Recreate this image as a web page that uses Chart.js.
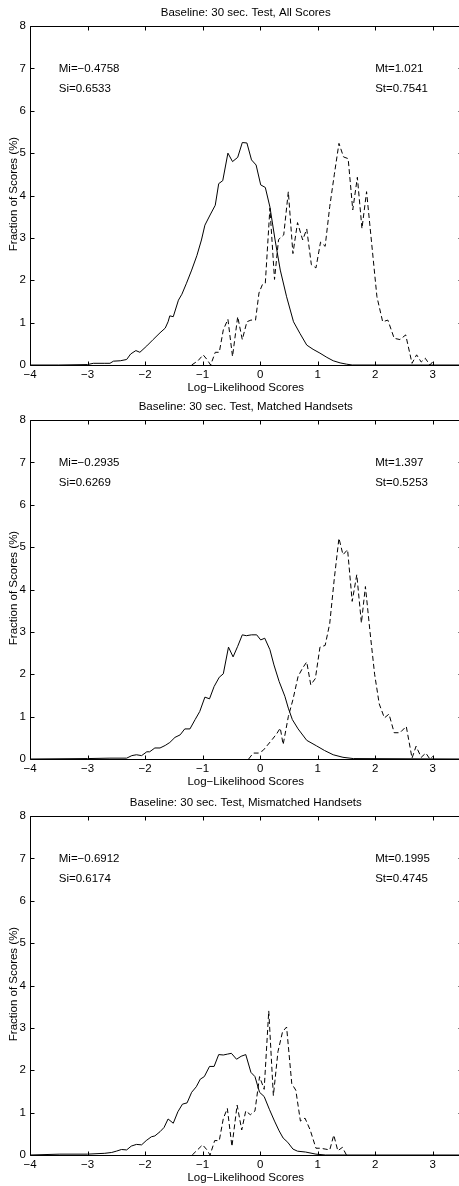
<!DOCTYPE html>
<html><head><meta charset="utf-8">
<script src="https://cdn.jsdelivr.net/npm/chart.js@4.4.1/dist/chart.umd.min.js"></script>
<style>
html,body{margin:0;padding:0;background:#fff;overflow:hidden;width:459px;height:1186px;position:relative;}
.panel{position:absolute;left:0;width:480px;height:395px;}
canvas{display:block;}
</style></head><body>
<div class="panel" style="top:0px"><canvas id="c0" width="480" height="395"></canvas></div>
<div class="panel" style="top:394px"><canvas id="c1" width="480" height="395"></canvas></div>
<div class="panel" style="top:790px"><canvas id="c2" width="480" height="395"></canvas></div>
<script>
// ---- data ----
const xTicks = [-4, -3, -2, -1, 0, 1, 2, 3];
const yTicks = [0, 1, 2, 3, 4, 5, 6, 7, 8];
const xRange = [-4, 3.5];
const yRange = [0, 8];
const panelTitles = ["Baseline: 30 sec. Test, All Scores", "Baseline: 30 sec. Test, Matched Handsets", "Baseline: 30 sec. Test, Mismatched Handsets"];
const xTitle = "Log\u2212Likelihood Scores";
const yTitle = "Fraction of Scores (%)";
const miLabels = ["Mi=\u22120.4758", "Mi=\u22120.2935", "Mi=\u22120.6912"];
const siLabels = ["Si=0.6533", "Si=0.6269", "Si=0.6174"];
const mtLabels = ["Mt=1.021", "Mt=1.397", "Mt=0.1995"];
const stLabels = ["St=0.7541", "St=0.5253", "St=0.4745"];

// Panel 1 (All Scores)
const p1SolidX = [-4,-3.5,-3.0,-2.9,-2.7,-2.61,-2.55,-2.43,-2.32,-2.25,-2.16,-2.09,-1.97,-1.86,-1.74,-1.65,-1.6,-1.57,-1.51,-1.42,-1.36,-1.28,-1.19,-1.1,-1.02,-0.96,-0.87,-0.78,-0.72,-0.65,-0.56,-0.48,-0.39,-0.31,-0.23,-0.15,-0.07,0.01,0.09,0.17,0.26,0.35,0.46,0.58,0.69,0.81,0.92,1.04,1.16,1.27,1.39,1.5,1.6,3.5];
const p1SolidY = [0,0,0.01,0.04,0.04,0.04,0.09,0.1,0.13,0.26,0.34,0.3,0.45,0.6,0.76,0.87,1.02,1.16,1.14,1.53,1.67,1.93,2.24,2.58,2.95,3.3,3.54,3.77,4.28,4.35,5.0,4.8,4.9,5.25,5.24,4.84,4.72,4.25,4.19,3.73,2.95,2.24,1.61,1.02,0.75,0.47,0.37,0.28,0.18,0.1,0.05,0.02,0,0];
const p1DashX = [-1.19,-1.08,-0.99,-0.93,-0.86,-0.78,-0.71,-0.64,-0.56,-0.48,-0.39,-0.31,-0.23,-0.16,-0.08,-0.02,0.04,0.09,0.17,0.25,0.32,0.41,0.49,0.57,0.65,0.74,0.81,0.89,0.97,1.05,1.13,1.21,1.29,1.37,1.45,1.53,1.61,1.69,1.77,1.85,2.03,2.13,2.22,2.33,2.43,2.53,2.64,2.72,2.8,2.87,2.95,3.01];
const p1DashY = [0,0.1,0.24,0.14,0,0.3,0.3,0.83,1.08,0.2,1.14,0.6,1.02,1.06,1.06,1.7,1.9,1.93,3.7,2.02,2.96,3.07,4.09,2.63,3.36,2.95,3.21,2.37,2.29,2.9,2.8,3.74,4.5,5.23,4.91,4.87,3.66,4.43,3.22,4.09,1.61,1.02,1.06,0.63,0.6,0.71,0.04,0.24,0.07,0.16,0,0.09];

// Panel 2 (Matched Handsets)
const p2SolidX = [-4,-3.0,-2.61,-2.32,-2.23,-2.15,-2.06,-1.97,-1.92,-1.83,-1.74,-1.65,-1.57,-1.48,-1.39,-1.31,-1.22,-1.13,-1.05,-0.96,-0.88,-0.8,-0.71,-0.64,-0.55,-0.47,-0.39,-0.31,-0.24,-0.15,-0.06,0.01,0.08,0.17,0.24,0.33,0.43,0.49,0.56,0.66,0.81,0.98,1.12,1.27,1.44,1.62,3.5];
const p2SolidY = [0,0.01,0.02,0.02,0.08,0.1,0.08,0.17,0.17,0.26,0.26,0.32,0.39,0.51,0.57,0.71,0.71,0.93,1.12,1.46,1.42,1.71,1.93,2.01,2.64,2.41,2.66,2.93,2.91,2.93,2.93,2.81,2.85,2.58,2.22,1.83,1.48,1.2,0.93,0.71,0.44,0.31,0.2,0.1,0.04,0.01,0];
const p2DashX = [-0.2,-0.12,-0.03,0.05,0.13,0.21,0.29,0.35,0.4,0.49,0.57,0.66,0.74,0.81,0.88,0.96,1.04,1.13,1.21,1.29,1.37,1.44,1.52,1.6,1.68,1.76,1.83,1.91,1.99,2.07,2.16,2.24,2.33,2.43,2.54,2.64,2.71,2.8,2.88,2.95,3.0];
const p2DashY = [0,0.14,0.14,0.2,0.33,0.46,0.6,0.73,0.34,1.0,1.4,1.95,2.15,2.29,1.75,1.9,2.64,2.68,3.2,4.27,5.21,4.82,4.94,3.72,4.35,3.21,4.07,3.0,2.0,1.3,0.97,1.06,0.62,0.62,0.77,0.02,0.3,0.04,0.14,0,0.06];

// Panel 3 (Mismatched Handsets)
const p3SolidX = [-4,-3.48,-3.0,-2.7,-2.58,-2.5,-2.41,-2.32,-2.24,-2.15,-2.06,-1.98,-1.89,-1.83,-1.74,-1.67,-1.6,-1.51,-1.43,-1.35,-1.27,-1.19,-1.11,-1.04,-0.97,-0.88,-0.8,-0.72,-0.64,-0.57,-0.5,-0.41,-0.33,-0.25,-0.16,-0.09,-0.01,0.07,0.16,0.25,0.33,0.4,0.48,0.57,0.65,0.79,0.97,1.14,3.5];
const p3SolidY = [0,0.02,0.02,0.04,0.06,0.09,0.13,0.12,0.21,0.25,0.24,0.34,0.43,0.45,0.55,0.65,0.85,0.75,1.02,1.2,1.23,1.48,1.61,1.79,1.85,2.09,2.09,2.37,2.36,2.38,2.4,2.26,2.33,2.37,1.95,1.85,1.48,1.38,1.08,0.8,0.57,0.4,0.3,0.14,0.09,0.07,0.02,0,0];
const p3DashX = [-1.18,-1.0,-0.93,-0.87,-0.79,-0.71,-0.64,-0.57,-0.49,-0.4,-0.32,-0.25,-0.17,-0.09,-0.01,0.07,0.15,0.23,0.31,0.39,0.46,0.55,0.62,0.7,0.78,0.87,0.97,1.05,1.13,1.21,1.28,1.35,1.43,1.5];
const p3DashY = [0,0.24,0.13,0,0.34,0.34,0.86,1.1,0.2,1.18,0.59,1.04,0.95,1.04,1.85,1.55,3.4,1.4,2.44,2.91,3.02,1.68,1.53,0.8,0.87,0.59,0.16,0.16,0.14,0.12,0.47,0.1,0.18,0];

const solidXs = [p1SolidX, p2SolidX, p3SolidX];
const solidYs = [p1SolidY, p2SolidY, p3SolidY];
const dashXs = [p1DashX, p2DashX, p3DashX];
const dashYs = [p1DashY, p2DashY, p3DashY];

// ---- drawing ----
const FONT = '"Liberation Sans", Arial, Helvetica, sans-serif';
const FS = 11.5;
const fmt = v => String(v).replace('-', '\u2212');
const pts = (xs, ys) => xs.map((x, i) => ({x: x, y: ys[i]}));

function framePlugin(idx) {
  return {
    id: 'frame' + idx,
    afterDatasetsDraw(chart) {
      const ctx = chart.ctx, a = chart.chartArea, sx = chart.scales.x, sy = chart.scales.y;
      ctx.save();
      ctx.strokeStyle = '#000';
      ctx.lineWidth = 1;
      const L = Math.round(a.left) + 0.5, R = Math.round(a.right) + 0.5;
      const T = Math.round(a.top) + 0.5, B = Math.round(a.bottom) + 0.5;
      ctx.beginPath();
      ctx.rect(L, T, R - L, B - T);
      const tl = 4;
      xTicks.forEach(v => {
        const p = Math.round(sx.getPixelForValue(v)) + 0.5;
        ctx.moveTo(p, B); ctx.lineTo(p, B - tl);
        ctx.moveTo(p, T); ctx.lineTo(p, T + tl);
      });
      yTicks.forEach(v => {
        const p = Math.round(sy.getPixelForValue(v)) + 0.5;
        ctx.moveTo(L, p); ctx.lineTo(L + tl, p);
        ctx.moveTo(R, p); ctx.lineTo(R - tl, p);
      });
      ctx.stroke();

      ctx.fillStyle = '#000';
      ctx.font = FS + 'px ' + FONT;
      ctx.textBaseline = 'middle';
      ctx.textAlign = 'center';
      const cx = (a.left + a.right) / 2;
      ctx.fillText(panelTitles[idx], cx, 13);
      ctx.fillText(xTitle, cx, a.bottom + 22.5);
      ctx.save();
      ctx.translate(13.5, a.bottom - 171);
      ctx.rotate(-Math.PI / 2);
      ctx.fillText(yTitle, 0, 0);
      ctx.restore();

      ctx.textAlign = 'left';
      const xl = sx.getPixelForValue(-3.5), xr = sx.getPixelForValue(2.0);
      const y1 = sy.getPixelForValue(7.0), y2 = sy.getPixelForValue(6.52);
      ctx.fillText(miLabels[idx], xl, y1);
      ctx.fillText(siLabels[idx], xl, y2);
      ctx.fillText(mtLabels[idx], xr, y1);
      ctx.fillText(stLabels[idx], xr, y2);
      ctx.restore();
    }
  };
}

for (let i = 0; i < 3; i++) {
  new Chart(document.getElementById('c' + i), {
    type: 'scatter',
    data: {
      datasets: [
        {data: pts(solidXs[i], solidYs[i]), showLine: true, borderColor: '#000', borderWidth: 1, pointRadius: 0, tension: 0, fill: false},
        {data: pts(dashXs[i], dashYs[i]), showLine: true, borderColor: '#000', borderWidth: 1, borderDash: [5, 3], pointRadius: 0, tension: 0, fill: false}
      ]
    },
    options: {
      responsive: false,
      devicePixelRatio: 1,
      animation: false,
      events: [],
      layout: {padding: {top: 26, left: 0, right: 18.5, bottom: 0}},
      plugins: {legend: {display: false}, tooltip: {enabled: false}, title: {display: false}},
      scales: {
        x: {
          type: 'linear', min: xRange[0], max: xRange[1],
          afterFit: s => { s.height = 30; },
          afterBuildTicks: s => { s.ticks = xTicks.map(v => ({value: v})); },
          grid: {display: false, drawTicks: false},
          border: {display: false},
          ticks: {color: '#000', font: {family: FONT, size: FS}, padding: 3, maxRotation: 0, autoSkip: false, callback: v => fmt(v)}
        },
        y: {
          type: 'linear', min: yRange[0], max: yRange[1],
          afterFit: s => { s.width = 30; },
          afterBuildTicks: s => { s.ticks = yTicks.map(v => ({value: v})); },
          grid: {display: false, drawTicks: false},
          border: {display: false},
          ticks: {color: '#000', font: {family: FONT, size: FS}, padding: 4, autoSkip: false, callback: v => fmt(v)}
        }
      }
    },
    plugins: [framePlugin(i)]
  });
}
</script>
</body></html>
